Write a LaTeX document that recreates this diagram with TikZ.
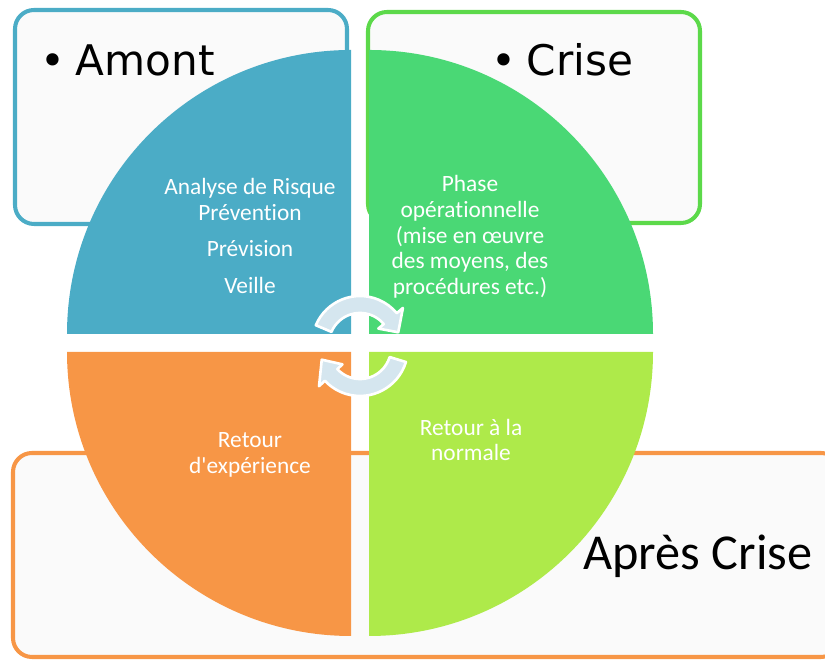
\documentclass[tikz,border=0pt]{standalone}
\usepackage{fontspec}
\setmainfont{Carlito}[Ligatures=CommonOff]
\newfontfamily\titlefont{DejaVu Sans}
\usepackage{tikz}

\definecolor{amontblue}{HTML}{4BACC6}
\definecolor{crisegreen}{HTML}{4AD875}
\definecolor{criseline}{HTML}{5CD94A}
\definecolor{retourorange}{HTML}{F79646}
\definecolor{normallime}{HTML}{AEEA4A}
\definecolor{boxfill}{HTML}{FAFAFA}
\definecolor{cyclefill}{HTML}{D5E6EF}

\begin{document}
\begin{tikzpicture}[x=0.02cm, y=0.02cm,
    phasebox/.style={line width=2.3pt, rounded corners=0.38cm, fill=boxfill},
    quadtext/.style={text=white, align=center, font=\fontsize{13.3}{14.6}\selectfont},
    bigtitle/.style={anchor=base west, inner sep=0pt,
        font=\titlefont\fontsize{24}{28}\selectfont},
    cyclearrow/.style={fill=cyclefill, draw=white, line width=1.5pt, line join=round}]
    \useasboundingbox (0,0) rectangle (825,661);
    % Add the phase boxes
        \draw[phasebox, draw=amontblue] (15,651) rectangle (347,437);
        \draw[phasebox, draw=criseline] (368,649) rectangle (700,438);
        \draw[phasebox, draw=retourorange] (13,208) rectangle (840,4);
    % Add the quarters of the wheel
        \fill[amontblue] (351,327) -- ++(0,284)
            arc[start angle=90, end angle=180, radius=284] -- cycle;
        \fill[crisegreen] (369,327) -- ++(0,284)
            arc[start angle=90, end angle=0, radius=284] -- cycle;
        \fill[retourorange] (351,309) -- ++(-284,0)
            arc[start angle=180, end angle=270, radius=284] -- cycle;
        \fill[normallime] (369,309) -- ++(0,-284)
            arc[start angle=270, end angle=360, radius=284] -- cycle;
    % Add the cycle arrows
    \begin{scope}[shift={(360,317)}]
        \path[cyclearrow] (157:48) arc[start angle=157, end angle=40, radius=48]
            -- (40:56) -- (17:40) -- (40:24) -- (40:31)
            arc[start angle=40, end angle=157, radius=31] -- cycle;
    \end{scope}
    \begin{scope}[shift={(360,313)}]
        \path[cyclearrow] (-17:48) arc[start angle=-17, end angle=-137, radius=48]
            -- (-137:56) -- (-163:40) -- (-137:24) -- (-137:31)
            arc[start angle=-137, end angle=-17, radius=31] -- cycle;
    \end{scope}
    % Add the texts
        \node[quadtext] (amonttxt) at (250,425)
            {Analyse de Risque\\Prévention\\[6pt]Prévision\\[6pt]Veille};
        \node[quadtext] (crisetxt) at (470,424)
            {Phase\\opérationnelle\\(mise en œuvre\\des moyens, des\\procédures etc.)};
        \node[quadtext] (retourtxt) at (250,206) {Retour\\d\textquotesingle expérience};
        \node[quadtext] (normaletxt) at (471,221) {Retour à la\\normale};
        \node[bigtitle] (amont) at (40,585) {\textbullet\hspace{6pt}Amont};
        \node[bigtitle] (crise) at (491,585) {\textbullet\hspace{6pt}Crise};
        \node[anchor=base west, inner sep=0pt,
              font=\fontsize{28.6}{32}\selectfont] (apres) at (583,91) {Après Crise};
\end{tikzpicture}
\end{document}
